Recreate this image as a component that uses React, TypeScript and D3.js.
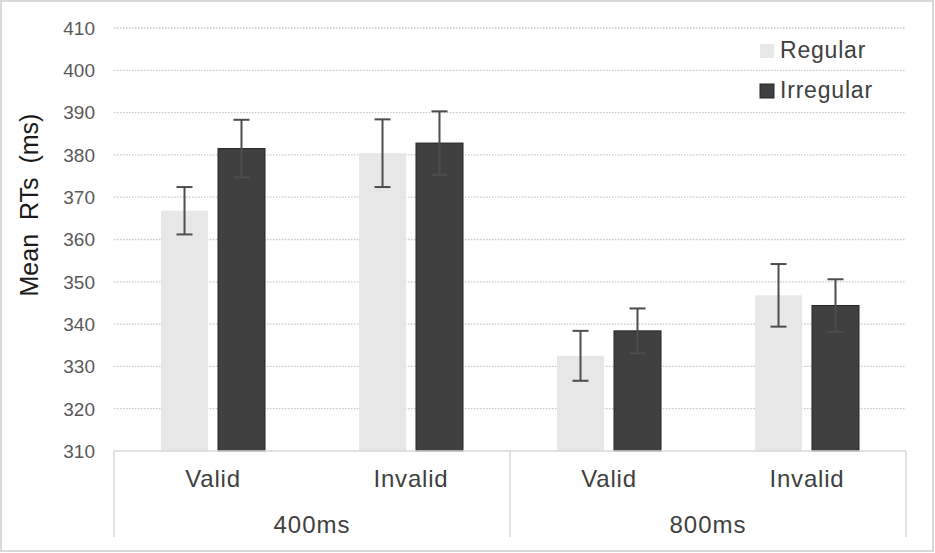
import * as d3 from "d3";

const conditions = ["Valid", "Invalid", "Valid", "Invalid"];
const soas = ["400ms", "800ms"];
const series = ["Regular", "Irregular"];
const regularMeans = [366.8, 380.4, 332.5, 346.8];
const regularErrors = [5.6, 8.0, 5.9, 7.4];
const irregularMeans = [381.5, 382.8, 338.4, 344.4];
const irregularErrors = [6.8, 7.5, 5.3, 6.2];
const yTicks = [310, 320, 330, 340, 350, 360, 370, 380, 390, 400, 410];

const colors: { [k: string]: string } = { Regular: "#e7e7e7", Irregular: "#404040" };

export default function App() {
  const width = 935;
  const height = 553;
  const margin = { top: 28, right: 29, bottom: 102, left: 114 };
  const font = "'Liberation Sans', Arial, sans-serif";

  const y = d3.scaleLinear().domain([310, 410]).range([height - margin.bottom, margin.top]);
  const slots = conditions.map((_, i) => String(i));
  const x = d3.scaleBand().domain(slots).range([margin.left, width - margin.right]);
  const inner = d3
    .scaleBand()
    .domain(series)
    .range([0, x.bandwidth()])
    .paddingInner(0.175)
    .paddingOuter(0.825);

  const values: { [k: string]: number[][] } = {
    Regular: regularMeans.map((m, i) => [m, regularErrors[i]]),
    Irregular: irregularMeans.map((m, i) => [m, irregularErrors[i]]),
  };

  const x0 = margin.left;
  const x1 = width - margin.right;
  const base = y(310);
  const groupW = (x1 - x0) / soas.length;

  return (
    <svg width={width} height={height} style={{ position: "absolute", left: 0, top: 0, background: "#fff" }}>
      <rect x={1} y={1} width={width - 3} height={height - 3} fill="#fff" stroke="#d9d9d9" strokeWidth={2} />

      {/* grid */}
      {yTicks.slice(1).map((t) => (
        <line key={t} x1={x0} x2={x1} y1={y(t)} y2={y(t)} stroke="#c8c8c8" strokeWidth={1.3} strokeDasharray="1.5 1.5" />
      ))}

      {/* y tick labels */}
      {yTicks.map((t) => (
        <text key={t} x={95} y={y(t)} dy="0.36em" textAnchor="end" fontFamily={font} fontSize={19} fill="#595959">
          {t}
        </text>
      ))}

      <text
        transform={`translate(38,205) rotate(-90)`}
        textAnchor="middle"
        fontFamily={font}
        fontSize={25}
        fill="#1a1a1a"
        style={{ whiteSpace: "pre" }}
      >
        {"Mean  RTs  (ms)"}
      </text>

      {/* bars */}
      {series.map((s) =>
        values[s].map(([m], i) => (
          <rect
            key={s + i}
            x={x(String(i))! + inner(s)!}
            y={y(m)}
            width={inner.bandwidth()}
            height={base - y(m)}
            fill={colors[s]}
            stroke={s === "Irregular" ? "#262626" : "none"}
            strokeWidth={1}
          />
        ))
      )}

      {/* error bars */}
      {series.map((s) =>
        values[s].map(([m, e], i) => {
          const cx = x(String(i))! + inner(s)! + inner.bandwidth() / 2;
          return (
            <g key={"e" + s + i} stroke="#4d4d4d" strokeWidth={2}>
              <line x1={cx} x2={cx} y1={y(m + e)} y2={y(m - e)} />
              <line x1={cx - 8} x2={cx + 8} y1={y(m + e)} y2={y(m + e)} />
              <line x1={cx - 8} x2={cx + 8} y1={y(m - e)} y2={y(m - e)} />
            </g>
          );
        })
      )}

      {/* category axis */}
      <line x1={x0} x2={x1} y1={base} y2={base} stroke="#d9d9d9" strokeWidth={1.5} />
      {d3.range(soas.length + 1).map((k) => (
        <line key={k} x1={x0 + k * groupW} x2={x0 + k * groupW} y1={base} y2={537} stroke="#d9d9d9" strokeWidth={1.5} />
      ))}
      {conditions.map((c, i) => (
        <text
          key={"c" + i}
          x={x(String(i))! + x.bandwidth() / 2}
          y={487}
          textAnchor="middle"
          fontFamily={font}
          fontSize={24}
          letterSpacing={0.8}
          fill="#404040"
        >
          {c}
        </text>
      ))}
      {soas.map((g, k) => (
        <text
          key={g}
          x={x0 + (k + 0.5) * groupW}
          y={533}
          textAnchor="middle"
          fontFamily={font}
          fontSize={24}
          letterSpacing={1}
          fill="#404040"
        >
          {g}
        </text>
      ))}

      {/* legend */}
      {series.map((s, k) => (
        <g key={"l" + s} transform={`translate(760,${44 + k * 40})`}>
          <rect width={14} height={14} fill={colors[s]} stroke={s === "Irregular" ? "#262626" : "none"} />
          <text x={20} y={14} fontFamily={font} fontSize={23} letterSpacing={0.8} fill="#404040">
            {s}
          </text>
        </g>
      ))}
    </svg>
  );
}
